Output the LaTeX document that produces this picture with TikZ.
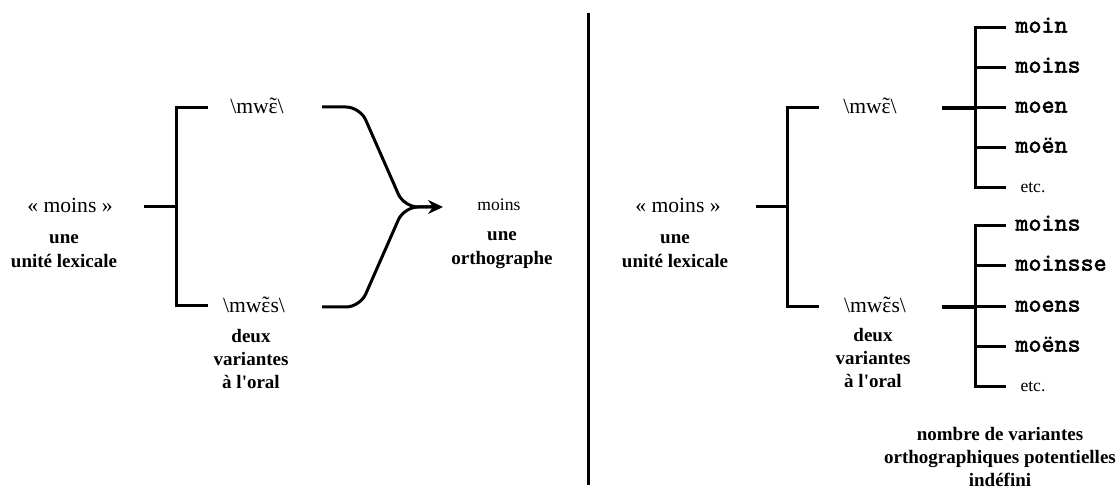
\documentclass[tikz,border=0pt]{standalone}
\usepackage{fontspec}
\setmainfont{Liberation Serif}
\newfontfamily\spellfont{lmmono10-regular.otf}[FakeBold=2.2]
\usetikzlibrary{arrows.meta}
\newcommand\epstilde{{\ooalign{ɛ\cr\hidewidth\raisebox{0.03em}{\char"02DC}\hidewidth\cr}}}

\begin{document}
\begin{tikzpicture}[x=0.5pt, y=-0.5pt, line width=1.5pt,
    word/.style={font=\fontsize{10.8}{13}\selectfont},
    small/.style={font=\fontsize{8.8}{10}\selectfont},
    note/.style={font=\fontsize{9.5}{11.7}\selectfont\bfseries, align=center},
    spell/.style={font=\fontsize{12.4}{14}\selectfont\spellfont, anchor=west,
        inner xsep=4pt, inner ysep=0pt, text height=1ex, text depth=0pt},
    etc/.style={small, anchor=west, inner xsep=6.5pt, inner ysep=0pt,
        text height=1ex, text depth=0pt}]
    \useasboundingbox (0,0) rectangle (1119,491);

    % left: two pronunciations, one spelling
    \node[word] (lexA) at (70,205) {« moins »};
    \node[note] (lexAtxt) at (64,251) {une\\unité lexicale};
    \node[word] (mwA) at (257,106) {\textbackslash mw\epstilde\textbackslash};
    \node[word] (mwsA) at (254,305) {\textbackslash mw\epstilde s\textbackslash};
    \node[note] (oralA) at (251,359) {deux\\variantes\\à l\textquotesingle oral};
    \node[small] (orth) at (499,205) {moins};
    \node[note] (orthtxt) at (502,250) {une\\orthographe};

    \coordinate (lexAR) at (144,207);
    \coordinate (stemA) at (176,207);
    \coordinate (mwAL) at (208,108);
    \coordinate (mwsAL) at (208,306);
    \coordinate (mwAR) at (322,107);
    \coordinate (mwsAR) at (322,307);
    \coordinate (joinA) at (432,207);
    \coordinate (tip) at (443,207);

    \draw (lexAR) -- (stemA);
    \draw (mwAL) -| (stemA) |- (mwsAL);
    \draw[rounded corners=7pt, -{Stealth[length=7.5pt, width=7pt, inset=2.5pt]}]
        (mwAR) -- (360,107) -- (404,207) -- (tip);
    \draw[rounded corners=7pt] (mwsAR) -- (360,307) -- (404,207) -- (joinA);

    % divider
    \draw (588,13) -- (588,485);

    % right: two pronunciations, many spellings
    \node[word] (lexB) at (678,205) {« moins »};
    \node[note] (lexBtxt) at (675,251) {une\\unité lexicale};
    \node[word] (mwB) at (870,106) {\textbackslash mw\epstilde\textbackslash};
    \node[word] (mwsB) at (875,305) {\textbackslash mw\epstilde s\textbackslash};
    \node[note] (oralB) at (873,358) {deux\\variantes\\à l\textquotesingle oral};

    \coordinate (lexBR) at (756,207);
    \coordinate (stemB) at (787,207);
    \coordinate (mwBL) at (819,108);
    \coordinate (mwsBL) at (819,307);
    \coordinate (mwBR) at (942,108);
    \coordinate (mwsBR) at (942,307);
    \coordinate (forkB) at (975,108);
    \coordinate (forkC) at (975,307);

    \draw (lexBR) -- (stemB);
    \draw (mwBL) -| (stemB) |- (mwsBL);

    \node[spell] (sa1) at (1006,28) {moin};
    \node[spell] (sa2) at (1006,68) {moins};
    \node[spell] (sa3) at (1006,108) {moen};
    \node[spell] (sa4) at (1006,148) {moën};
    \node[etc] (sa5) at (1006,188) {etc.};
    \draw[line width=1.8pt] (mwBR) -- (forkB);
    \draw (sa1.west) -| (forkB) |- (sa5.west);
    \foreach \s in {sa2,sa3,sa4}
        \draw (forkB |- \s.west) -- (\s.west);

    \node[spell] (sb1) at (1006,226) {moins};
    \node[spell] (sb2) at (1006,266) {moinsse};
    \node[spell] (sb3) at (1006,307) {moens};
    \node[spell] (sb4) at (1006,347) {moëns};
    \node[etc] (sb5) at (1006,387) {etc.};
    \draw[line width=1.8pt] (mwsBR) -- (forkC);
    \draw (sb1.west) -| (forkC) |- (sb5.west);
    \foreach \s in {sb2,sb3,sb4}
        \draw (forkC |- \s.west) -- (\s.west);

    \node[note] (countB) at (1000,457) {nombre de variantes\\orthographiques potentielles\\indéfini};
\end{tikzpicture}
\end{document}
